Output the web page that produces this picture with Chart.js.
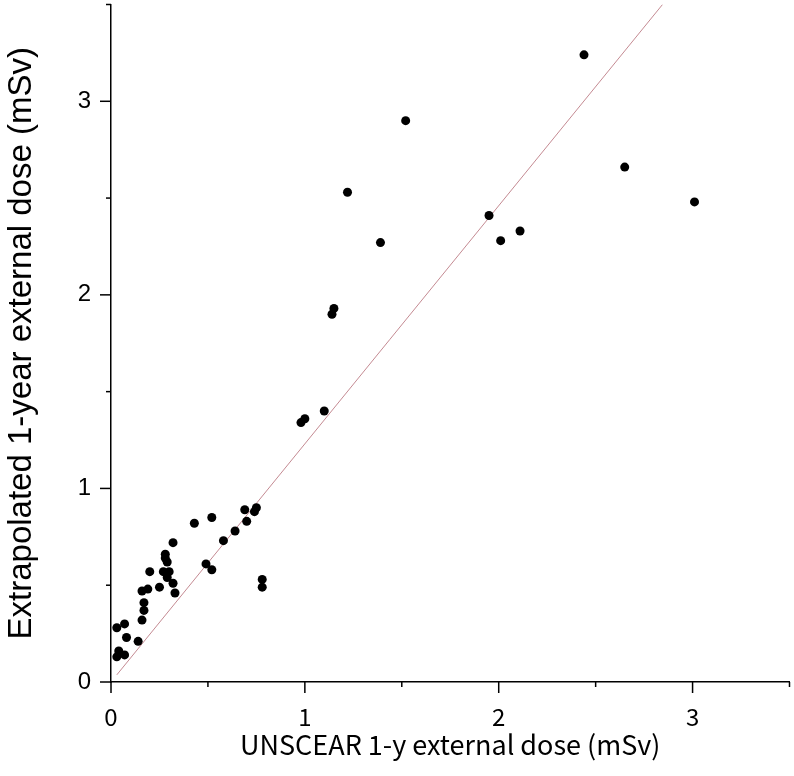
<!DOCTYPE html>
<html>
<head>
<meta charset="utf-8">
<script src="https://cdn.jsdelivr.net/npm/chart.js@4.4.1/dist/chart.umd.min.js"></script>
<style>
  body { margin: 0; background: #fff; }
  #wrap { width: 794px; height: 776px; }
</style>
</head>
<body>
<div id="wrap"><canvas id="chart" width="794" height="776"></canvas></div>
<script>
// UNSCEAR 1-y external dose (x) vs extrapolated 1-year external dose (y), mSv
const unscearDose = [
  2.44, 1.52, 2.65, 3.01, 1.22, 1.95, 2.11, 2.01, 1.39, 1.15, 1.14, 1.10, 1.00, 0.98,
  0.69, 0.75, 0.74, 0.70, 0.64, 0.58, 0.43, 0.52, 0.49, 0.52, 0.78, 0.78,
  0.32, 0.28, 0.28, 0.29, 0.20, 0.27, 0.30, 0.29, 0.32, 0.25, 0.19, 0.16, 0.33,
  0.17, 0.17, 0.16, 0.03, 0.07, 0.08, 0.14, 0.04, 0.03, 0.07
];
const extrapDose = [
  3.24, 2.90, 2.66, 2.48, 2.53, 2.41, 2.33, 2.28, 2.27, 1.93, 1.90, 1.40, 1.36, 1.34,
  0.89, 0.90, 0.88, 0.83, 0.78, 0.73, 0.82, 0.85, 0.61, 0.58, 0.53, 0.49,
  0.72, 0.66, 0.64, 0.62, 0.57, 0.57, 0.57, 0.54, 0.51, 0.49, 0.48, 0.47, 0.46,
  0.41, 0.37, 0.32, 0.28, 0.30, 0.23, 0.21, 0.16, 0.13, 0.14
];
// reference line
const lineX = [0.03, 2.845];
const lineY = [0.037, 3.5];

const tickValues = [0, 0.5, 1, 1.5, 2, 2.5, 3, 3.5];
const tickLabels = ['0', '1', '2', '3'];

const points = unscearDose.map((v, i) => ({ x: v, y: extrapDose[i] }));
const linePts = lineX.map((v, i) => ({ x: v, y: lineY[i] }));

function labelFor(v) {
  return tickLabels.includes(String(v)) ? String(v) : '';
}

// major / minor tick marks drawn outward
const tickMarks = {
  id: 'tickMarks',
  afterDraw(chart) {
    const { ctx, scales: { x, y } } = chart;
    ctx.save();
    ctx.strokeStyle = '#000';
    ctx.lineWidth = 1.5;
    tickValues.forEach(v => {
      const len = Number.isInteger(v) ? 11 : 5;
      const px = x.getPixelForValue(v);
      ctx.beginPath();
      ctx.moveTo(px, x.top);
      ctx.lineTo(px, x.top + len);
      ctx.stroke();
      const py = y.getPixelForValue(v);
      ctx.beginPath();
      ctx.moveTo(y.right, py);
      ctx.lineTo(y.right - len, py);
      ctx.stroke();
    });
    ctx.restore();
  }
};

const ctx = document.getElementById('chart').getContext('2d');
const chart = new Chart(ctx, {
  type: 'scatter',
  data: {
    datasets: [{
      data: points,
      backgroundColor: '#000',
      borderWidth: 0,
      pointRadius: 4.5,
      order: 1
    }, {
      type: 'line',
      data: linePts,
      borderColor: '#c48a92',
      borderWidth: 1,
      pointRadius: 0,
      fill: false,
      order: 2
    }]
  },
  options: {
    responsive: false,
    animation: false,
    layout: { padding: { top: 1, right: 1, left: 0, bottom: 0 } },
    plugins: { legend: { display: false }, tooltip: { enabled: false } },
    scales: {
      x: {
        type: 'linear',
        min: 0,
        max: 3.5,
        afterFit: s => { s.height = 94; s.paddingLeft = 0; s.paddingRight = 0; },
        grid: { display: false, drawTicks: true, tickLength: 11 },
        border: { display: true, color: '#000', width: 1.5 },
        ticks: {
          stepSize: 0.5,
          autoSkip: false,
          maxRotation: 0,
          padding: 9,
          color: '#000',
          font: { family: '"Noto Sans CJK JP", sans-serif', size: 24 },
          callback: v => labelFor(v)
        },
        title: {
          display: true,
          text: 'UNSCEAR 1-y external dose (mSv)',
          color: '#000',
          font: { family: '"Noto Sans CJK JP", sans-serif', size: 27 },
          padding: { top: 0, bottom: 15 }
        }
      },
      y: {
        type: 'linear',
        min: 0,
        max: 3.5,
        afterFit: s => { s.width = 111; s.paddingTop = 0; s.paddingBottom = 0; },
        grid: { display: false, drawTicks: true, tickLength: 11 },
        border: { display: true, color: '#000', width: 1.5 },
        ticks: {
          stepSize: 0.5,
          autoSkip: false,
          padding: 9,
          color: '#000',
          font: { family: '"Liberation Sans", Arial, sans-serif', size: 24 },
          callback: v => labelFor(v)
        },
        title: {
          display: true,
          text: 'Extrapolated 1-year external dose (mSv)',
          color: '#000',
          font: { family: '"Liberation Sans", Arial, sans-serif', size: 33 },
          padding: { top: 2, bottom: 0 }
        }
      }
    }
  },
  plugins: [tickMarks]
});
</script>
</body>
</html>
